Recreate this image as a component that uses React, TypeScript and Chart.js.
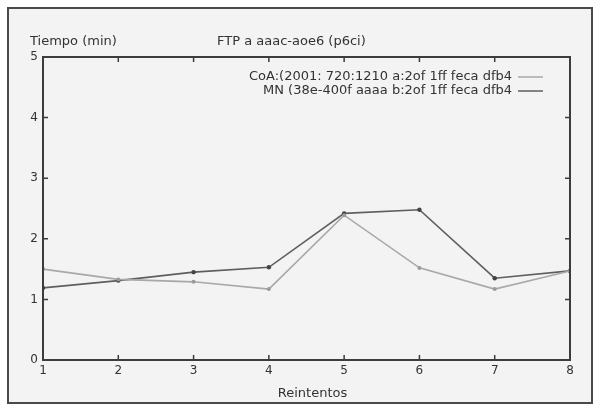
import React, { useEffect, useRef } from "react";
import { Chart, registerables } from "chart.js";

Chart.register(...registerables);

const categories = [1, 2, 3, 4, 5, 6, 7, 8];
const seriesCoA = [1.5, 1.33, 1.29, 1.17, 2.39, 1.52, 1.17, 1.47];
const seriesMN = [1.19, 1.31, 1.45, 1.53, 2.42, 2.48, 1.35, 1.47];
const seriesLabels = [
  "CoA:(2001: 720:1210 a:2of 1ff feca dfb4",
  "MN (38e-400f aaaa b:2of 1ff feca dfb4",
];
const yTicks = [0, 1, 2, 3, 4, 5];
const titleText = "FTP a aaac-aoe6 (p6ci)";
const yTitle = "Tiempo (min)";
const xTitle = "Reintentos";

const FONT = "'DejaVu Sans', sans-serif";

const framePlugin = {
  id: "framePlugin",
  beforeDraw(chart: any) {
    const ctx = chart.ctx;
    ctx.save();
    ctx.fillStyle = "#ffffff";
    ctx.fillRect(0, 0, chart.width, chart.height);
    ctx.fillStyle = "#f3f3f3";
    ctx.fillRect(8, 8, 584, 395);
    ctx.strokeStyle = "#4a4a4a";
    ctx.lineWidth = 2;
    ctx.strokeRect(8, 8, 584, 395);
    ctx.restore();
  },
  afterDraw(chart: any) {
    const ctx = chart.ctx;
    const a = chart.chartArea;
    const xs = chart.scales.x;
    const ys = chart.scales.y;
    ctx.save();
    ctx.strokeStyle = "#3c3c3c";
    ctx.lineWidth = 2;
    ctx.strokeRect(a.left, a.top, a.right - a.left, a.bottom - a.top);
    ctx.lineWidth = 1.5;
    const tl = 5;
    categories.forEach((c) => {
      const px = xs.getPixelForValue(c);
      ctx.beginPath();
      ctx.moveTo(px, a.bottom);
      ctx.lineTo(px, a.bottom - tl);
      ctx.moveTo(px, a.top);
      ctx.lineTo(px, a.top + tl);
      ctx.stroke();
    });
    yTicks.forEach((v) => {
      const py = ys.getPixelForValue(v);
      ctx.beginPath();
      ctx.moveTo(a.left, py);
      ctx.lineTo(a.left + tl, py);
      ctx.moveTo(a.right, py);
      ctx.lineTo(a.right - tl, py);
      ctx.stroke();
    });
    ctx.fillStyle = "#333";
    ctx.font = `13px ${FONT}`;
    ctx.textBaseline = "middle";
    ctx.textAlign = "left";
    ctx.fillText(yTitle, 30, 42);
    ctx.fillText(titleText, 217, 42);
    ctx.textAlign = "center";
    ctx.fillText(xTitle, (a.left + a.right) / 2 + 6, 394);
    const ds = chart.data.datasets;
    ds.forEach((d: any, i: number) => {
      const y = 77 + i * 14;
      ctx.textAlign = "right";
      ctx.fillStyle = "#333";
      ctx.fillText(d.label, 512, y);
      ctx.strokeStyle = d.borderColor;
      ctx.lineWidth = 1.5;
      ctx.beginPath();
      ctx.moveTo(518, y);
      ctx.lineTo(543, y);
      ctx.stroke();
    });
    ctx.restore();
  },
};

export default function App() {
  const ref = useRef<HTMLCanvasElement | null>(null);
  useEffect(() => {
    if (!ref.current) return;
    const chart = new Chart(ref.current, {
      type: "line",
      data: {
        datasets: [
          {
            label: seriesLabels[0],
            data: categories.map((c, i) => ({ x: c, y: seriesCoA[i] })),
            borderColor: "#a8a8a8",
            backgroundColor: "#9a9a9a",
            borderWidth: 1.6,
            pointRadius: 2,
            pointBorderWidth: 0,
            tension: 0,
          },
          {
            label: seriesLabels[1],
            data: categories.map((c, i) => ({ x: c, y: seriesMN[i] })),
            borderColor: "#5e5e5e",
            backgroundColor: "#444",
            borderWidth: 1.6,
            pointRadius: 2.2,
            pointBorderWidth: 0,
            tension: 0,
          },
        ],
      },
      options: {
        animation: false,
        responsive: false,
        layout: { padding: { left: 0, right: 28, top: 57, bottom: 0 } },
        plugins: {
          legend: { display: false },
          title: { display: false },
          tooltip: { enabled: false },
        },
        scales: {
          x: {
            type: "linear",
            min: 1,
            max: 8,
            grid: { display: false, drawTicks: false },
            border: { display: false },
            ticks: {
              stepSize: 1,
              padding: 4,
              color: "#333",
              font: { family: FONT, size: 12 },
            },
            afterFit: (s: any) => {
              s.height = 49;
            },
          },
          y: {
            min: 0,
            max: 5,
            grid: { display: false, drawTicks: false },
            border: { display: false },
            ticks: {
              stepSize: 1,
              padding: 5,
              color: "#333",
              font: { family: FONT, size: 12 },
            },
            afterFit: (s: any) => {
              s.width = 43;
            },
          },
        },
      },
      plugins: [framePlugin],
    });
    return () => chart.destroy();
  }, []);
  return (
    <div style={{ position: "fixed", left: 0, top: 0, width: 598, height: 409 }}>
      <canvas ref={ref} width={598} height={409} />
    </div>
  );
}
